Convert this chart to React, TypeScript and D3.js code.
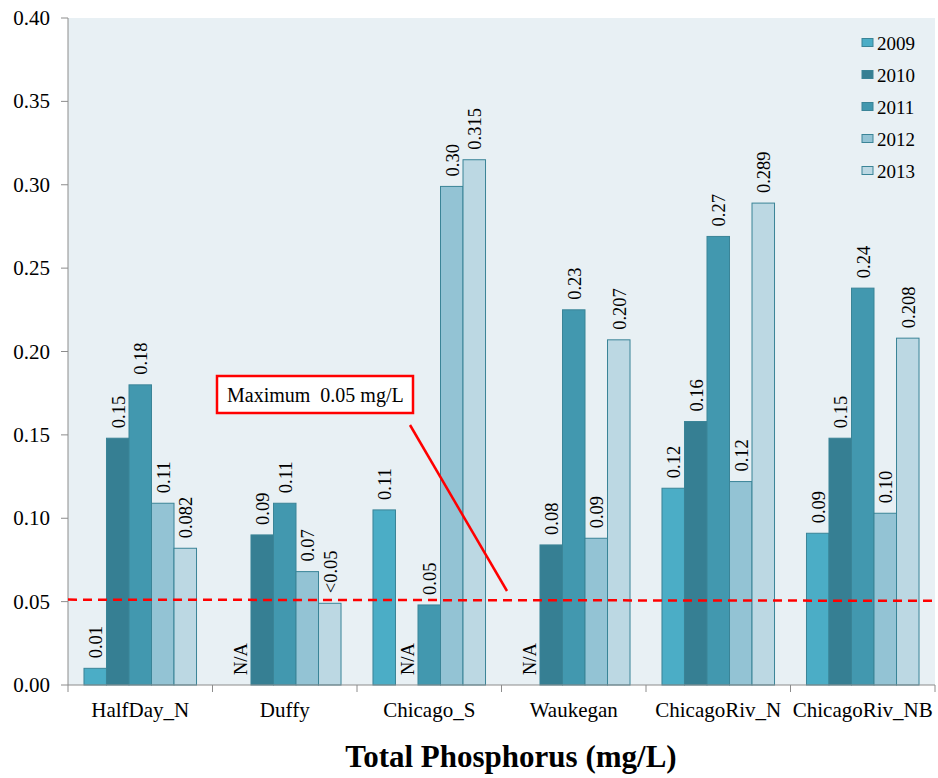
import { useEffect, useRef } from 'react';
import * as d3 from 'd3';

const SITES = ['HalfDay_N', 'Duffy', 'Chicago_S', 'Waukegan', 'ChicagoRiv_N', 'ChicagoRiv_NB'];
const YEARS = ['2009', '2010', '2011', '2012', '2013'];

// values per year, one entry per site (null = N/A)
const Y2009 = [0.010, null, 0.105, null, 0.118, 0.091];
const Y2010 = [0.148, 0.090, null, 0.084, 0.158, 0.148];
const Y2011 = [0.180, 0.109, 0.048, 0.225, 0.269, 0.238];
const Y2012 = [0.109, 0.068, 0.299, 0.088, 0.122, 0.103];
const Y2013 = [0.082, 0.049, 0.315, 0.207, 0.289, 0.208];

const L2009 = ['0.01', 'N/A', '0.11', 'N/A', '0.12', '0.09'];
const L2010 = ['0.15', '0.09', 'N/A', '0.08', '0.16', '0.15'];
const L2011 = ['0.18', '0.11', '0.05', '0.23', '0.27', '0.24'];
const L2012 = ['0.11', '0.07', '0.30', '0.09', '0.12', '0.10'];
const L2013 = ['0.082', '<0.05', '0.315', '0.207', '0.289', '0.208'];

const Y_TICKS = [0, 0.05, 0.1, 0.15, 0.2, 0.25, 0.3, 0.35, 0.4];
const LIMIT = [0.0512, 0.0505]; // dashed limit line, left / right end
const NOTE = 'Maximum\u00a0\u00a00.05 mg/L';
const TITLE = 'Total Phosphorus (mg/L)';

const COLORS = ['#4BADC6', '#367F93', '#4298AF', '#93C3D4', '#BCD8E3'];
const FONT = "'Liberation Serif', 'Times New Roman', serif";

export default function App() {
  const svgRef = useRef<SVGSVGElement>(null);
  const width = 938;
  const height = 778;

  useEffect(() => {
    if (!svgRef.current) return;
    const svg = d3.select(svgRef.current);
    svg.selectAll('*').remove();

    const m = { left: 68, right: 935, top: 18, bottom: 685 };

    const x0 = d3.scaleBand().domain(SITES).range([m.left, m.right]).paddingInner(0).paddingOuter(0);
    const x1 = d3.scaleBand().domain(YEARS).range([0, x0.bandwidth()]).paddingOuter(0.71).paddingInner(0);
    const y = d3.scaleLinear().domain([0, 0.4]).range([m.bottom, m.top]);

    const txt = (sel: any, size: number) =>
      sel.append('text')
        .style('font-family', FONT)
        .style('font-size', `${size}px`)
        .attr('fill', '#000');

    // plot background
    svg.append('rect')
      .attr('x', m.left).attr('y', m.top)
      .attr('width', m.right - m.left).attr('height', m.bottom - m.top)
      .attr('fill', '#E8F0F4');

    const values = [Y2009, Y2010, Y2011, Y2012, Y2013];
    const labels = [L2009, L2010, L2011, L2012, L2013];

    const g = svg.append('g');
    SITES.forEach((site, si) => {
      YEARS.forEach((yr, yi) => {
        const v = values[yi][si];
        const bx = (x0(site) as number) + (x1(yr) as number);
        const bw = x1.bandwidth();
        if (v != null) {
          g.append('rect')
            .attr('x', bx).attr('y', y(v))
            .attr('width', bw).attr('height', y(0) - y(v))
            .attr('fill', COLORS[yi])
            .attr('stroke', '#3A8497')
            .attr('stroke-width', 1);
        }
        const top = v != null ? y(v) : y(0);
        txt(g, 18.5)
          .attr('transform', `translate(${bx + bw / 2 + 7},${top - 10}) rotate(-90)`)
          .text(labels[yi][si]);
      });
    });

    // y axis
    svg.append('line')
      .attr('x1', m.left).attr('x2', m.left).attr('y1', m.top).attr('y2', m.bottom)
      .attr('stroke', '#8C8C8C');
    Y_TICKS.forEach(t => {
      svg.append('line')
        .attr('x1', m.left - 7).attr('x2', m.left).attr('y1', y(t)).attr('y2', y(t))
        .attr('stroke', '#8C8C8C');
      txt(svg, 21)
        .attr('x', 50).attr('y', y(t) + 7)
        .attr('text-anchor', 'end')
        .text(t.toFixed(2));
    });

    // x axis
    svg.append('line')
      .attr('x1', m.left).attr('x2', m.right).attr('y1', m.bottom).attr('y2', m.bottom)
      .attr('stroke', '#8C8C8C');
    SITES.forEach((s, i) => {
      const xs = x0(s) as number;
      svg.append('line')
        .attr('x1', xs).attr('x2', xs).attr('y1', m.bottom).attr('y2', m.bottom + 7)
        .attr('stroke', '#8C8C8C');
      if (i === SITES.length - 1) {
        svg.append('line')
          .attr('x1', m.right).attr('x2', m.right).attr('y1', m.bottom).attr('y2', m.bottom + 7)
          .attr('stroke', '#8C8C8C');
      }
      txt(svg, 21)
        .attr('x', xs + x0.bandwidth() / 2).attr('y', 717)
        .attr('text-anchor', 'middle')
        .text(s);
    });

    // limit line
    svg.append('line')
      .attr('x1', m.left).attr('x2', m.right)
      .attr('y1', y(LIMIT[0])).attr('y2', y(LIMIT[1]))
      .attr('stroke', '#FF0000').attr('stroke-width', 2.5)
      .attr('stroke-dasharray', '9,6');

    // annotation
    svg.append('rect')
      .attr('x', 217).attr('y', 376).attr('width', 196).attr('height', 37)
      .attr('fill', '#fff').attr('stroke', '#FF0000').attr('stroke-width', 2.5);
    txt(svg, 20)
      .attr('x', 227).attr('y', 402)
      .text(NOTE);
    svg.append('line')
      .attr('x1', 410).attr('y1', 425).attr('x2', 507).attr('y2', 591)
      .attr('stroke', '#FF0000').attr('stroke-width', 2.5);

    // legend
    YEARS.forEach((yr, i) => {
      const ly = 42.5 + i * 32;
      svg.append('rect')
        .attr('x', 862).attr('y', ly - 4).attr('width', 11).attr('height', 8)
        .attr('fill', COLORS[i]).attr('stroke', '#3A8497');
      txt(svg, 19)
        .attr('x', 877).attr('y', ly + 7)
        .text(yr);
    });

    // title
    txt(svg, 31)
      .attr('x', 511).attr('y', 767)
      .attr('text-anchor', 'middle')
      .style('font-weight', 'bold')
      .text(TITLE);
  }, []);

  return (
    <svg
      ref={svgRef}
      width={width}
      height={height}
      style={{ position: 'absolute', left: 0, top: 0, background: '#fff' }}
    />
  );
}
